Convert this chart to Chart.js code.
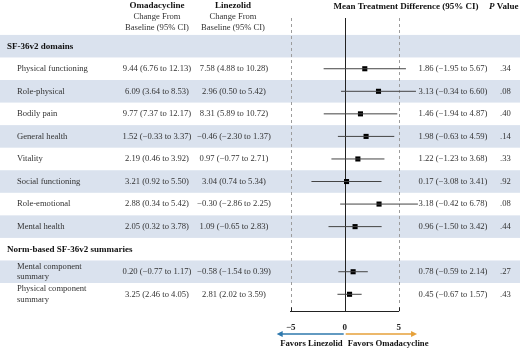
<!DOCTYPE html>
<html lang="en">
<head>
<meta charset="UTF-8"/>
<title>SF-36v2 – Omadacycline vs Linezolid</title>
<script src="https://cdn.jsdelivr.net/npm/chart.js@4"></script>
<style>
  body { margin:0; background:#fff; }
  canvas { display:block; }
</style>
</head>
<body>
<canvas id="forest" width="520" height="349"></canvas>
<script>
  // table rows
  const sections = ['SF-36v2 domains', 'Norm-based SF-36v2 summaries'];
  const categories = ['Physical functioning','Role-physical','Bodily pain','General health','Vitality',
    'Social functioning','Role-emotional','Mental health','Mental component\nsummary','Physical component\nsummary'];
  const sectionOf = [0,0,0,0,0,0,0,0,1,1];

  // change from baseline (95% CI)
  const omaMean = [9.44, 6.09, 9.77, 1.52, 2.19, 3.21, 2.88, 2.05, 0.20, 3.25];
  const omaLo   = [6.76, 3.64, 7.37, -0.33, 0.46, 0.92, 0.34, 0.32, -0.77, 2.46];
  const omaHi   = [12.13, 8.53, 12.17, 3.37, 3.92, 5.50, 5.42, 3.78, 1.17, 4.05];
  const linMean = [7.58, 2.96, 8.31, -0.46, 0.97, 3.04, -0.30, 1.09, -0.58, 2.81];
  const linLo   = [4.88, 0.50, 5.89, -2.30, -0.77, 0.74, -2.86, -0.65, -1.54, 2.02];
  const linHi   = [10.28, 5.42, 10.72, 1.37, 2.71, 5.34, 2.25, 2.83, 0.39, 3.59];

  // mean treatment difference (95% CI)
  const diffMean = [1.86, 3.13, 1.46, 1.98, 1.22, 0.17, 3.18, 0.96, 0.78, 0.45];
  const diffLo   = [-1.95, -0.34, -1.94, -0.63, -1.23, -3.08, -0.42, -1.50, -0.59, -0.67];
  const diffHi   = [5.67, 6.60, 4.87, 4.59, 3.68, 3.41, 6.78, 3.42, 2.14, 1.57];
  const pValues  = ['.34', '.08', '.40', '.14', '.33', '.92', '.08', '.44', '.27', '.43'];

  const xTicks = [-5, 0, 5];

  // lay the rows out, a heading row before each section
  const rows = [];
  let lastSec = -1;
  categories.forEach((c, i) => {
    if (sectionOf[i] !== lastSec) { rows.push({ head: sections[sectionOf[i]] }); lastSec = sectionOf[i]; }
    rows.push({ item: i });
  });
  const rowOf = [];
  rows.forEach((r, k) => { if (r.item !== undefined) rowOf[r.item] = k; });

  const minus = v => (v < 0 ? '\u2212' : '') + Math.abs(v).toFixed(2);
  const ci = (m, l, h) => `${minus(m)} (${minus(l)} to ${minus(h)})`;

  const SERIF = '"Liberation Serif", "DejaVu Serif", serif';
  const TXT = '#333';

  const whiskers = categories.map((c, i) => ({
    type: 'scatter',
    data: [{ x: diffLo[i], y: rowOf[i] }, { x: diffHi[i], y: rowOf[i] }],
    showLine: true, borderColor: '#444', borderWidth: 1,
    pointRadius: 0, clip: false
  }));

  const tablePlugin = {
    id: 'table',
    beforeDraw(chart) {
      const { ctx, scales: { y } } = chart;
      ctx.save();
      ctx.fillStyle = '#dae2ee';
      rows.forEach((r, k) => {
        if (k % 2) return;
        const top = y.getPixelForValue(k - 0.5), bot = y.getPixelForValue(k + 0.5);
        ctx.fillRect(0, top, chart.width, bot - top);
      });
      ctx.restore();
    },
    beforeDatasetsDraw(chart) {
      const { ctx, scales: { x, y } } = chart;
      ctx.save();
      ctx.lineWidth = 1;
      [xTicks[0], xTicks[2]].forEach(v => {
        const px = Math.round(x.getPixelForValue(v)) + 0.5;
        ctx.strokeStyle = '#9c9c9c';
        ctx.setLineDash([3, 3]);
        ctx.beginPath(); ctx.moveTo(px, y.top); ctx.lineTo(px, y.bottom - 6); ctx.stroke();
        // short solid tick up from the axis
        ctx.setLineDash([]);
        ctx.strokeStyle = '#222';
        ctx.beginPath(); ctx.moveTo(px, y.bottom - 4); ctx.lineTo(px, y.bottom); ctx.stroke();
      });
      ctx.strokeStyle = '#222';
      const z = Math.round(x.getPixelForValue(0)) + 0.5;
      ctx.beginPath(); ctx.moveTo(z, y.top); ctx.lineTo(z, y.bottom); ctx.stroke();
      ctx.restore();
    },
    afterDraw(chart) {
      const { ctx, scales: { x, y } } = chart;
      ctx.save();
      ctx.textBaseline = 'middle';

      // column headers
      ctx.fillStyle = '#111';
      ctx.textAlign = 'center';
      ctx.font = `bold 9px ${SERIF}`;
      ctx.fillText('Omadacycline', 157, 6);
      ctx.fillText('Linezolid', 233, 6);
      ctx.fillText('Mean Treatment Difference (95% CI)', 406, 7);
      ctx.textAlign = 'left';
      ctx.font = `italic bold 9px ${SERIF}`;
      ctx.fillText('P', 489, 7);
      const pw = ctx.measureText('P').width;
      ctx.font = `bold 9px ${SERIF}`;
      ctx.fillText(' Value', 489 + pw, 7);
      ctx.font = `8.6px ${SERIF}`;
      ctx.fillStyle = TXT;
      ctx.textAlign = 'center';
      ['Change From', 'Baseline (95% CI)'].forEach((t, j) => {
        ctx.fillText(t, 157, 17 + j * 11);
        ctx.fillText(t, 233, 17 + j * 11);
      });

      // rows
      rows.forEach((r, k) => {
        const py = y.getPixelForValue(k);
        if (r.head) {
          ctx.fillStyle = '#111';
          ctx.textAlign = 'left';
          ctx.font = `bold 9px ${SERIF}`;
          ctx.fillText(r.head, 7, py);
          return;
        }
        const i = r.item;
        ctx.fillStyle = TXT;
        ctx.font = `8.6px ${SERIF}`;
        ctx.textAlign = 'left';
        const lines = categories[i].split('\n');
        lines.forEach((t, j) => ctx.fillText(t, 17, py + (j - (lines.length - 1) / 2) * 10.5));
        ctx.textAlign = 'center';
        ctx.fillText(ci(omaMean[i], omaLo[i], omaHi[i]), 157, py);
        ctx.fillText(ci(linMean[i], linLo[i], linHi[i]), 234, py);
        ctx.fillText(ci(diffMean[i], diffLo[i], diffHi[i]), 453, py);
        ctx.textAlign = 'left';
        ctx.fillText(pValues[i], 500, py);
      });

      // direction arrows
      const ay = 334, x0 = x.getPixelForValue(0);
      const arrow = (from, to, col) => {
        ctx.strokeStyle = col; ctx.fillStyle = col; ctx.lineWidth = 1.6;
        const d = Math.sign(to - from);
        ctx.beginPath(); ctx.moveTo(from, ay); ctx.lineTo(to - d * 4, ay); ctx.stroke();
        ctx.beginPath(); ctx.moveTo(to, ay); ctx.lineTo(to - d * 6, ay - 3); ctx.lineTo(to - d * 6, ay + 3);
        ctx.closePath(); ctx.fill();
      };
      arrow(x0 - 1, x.getPixelForValue(-6.3), '#2e78ad');
      arrow(x0 + 1, x.getPixelForValue(6.7), '#e6a13a');
      ctx.fillStyle = '#111';
      ctx.font = `bold 8.7px ${SERIF}`;
      ctx.textAlign = 'right';
      ctx.fillText('Favors Linezolid', x0 - 2, 344);
      ctx.textAlign = 'left';
      ctx.fillText('Favors Omadacycline', x0 + 3, 344);
      ctx.restore();
    }
  };

  new Chart(document.getElementById('forest'), {
    type: 'scatter',
    data: {
      datasets: [
        ...whiskers,
        {
          data: diffMean.map((v, i) => ({ x: v, y: rowOf[i] })),
          pointStyle: 'rect', pointRadius: 3.6, borderWidth: 0,
          backgroundColor: '#000', clip: false
        }
      ]
    },
    options: {
      responsive: false,
      animation: false,
      devicePixelRatio: 1,
      layout: { padding: { left: 290.7, right: 121.3, top: 18, bottom: 13 } },
      plugins: { legend: { display: false }, tooltip: { enabled: false } },
      scales: {
        x: {
          type: 'linear', min: -5, max: 5,
          afterBuildTicks: s => { s.ticks = xTicks.map(v => ({ value: v })); },
          grid: { display: false },
          border: { display: true, color: '#222', width: 1 },
          ticks: {
            color: '#222', padding: 3, maxRotation: 0,
            font: { family: SERIF, size: 9, weight: 'bold' },
            callback: v => v < 0 ? '\u2212' + Math.abs(v) : String(v)
          }
        },
        y: {
          type: 'linear', min: -1.25, max: 11.75, reverse: true,
          display: false
        }
      }
    },
    plugins: [tablePlugin]
  });
</script>
</body>
</html>
